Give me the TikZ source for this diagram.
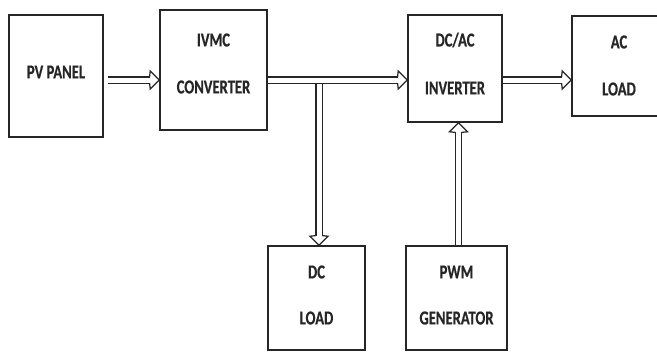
\documentclass[tikz,border=0pt]{standalone}
\usepackage{fontspec}
\setmainfont{Carlito}[BoldFeatures={FakeBold=0.7}]
\newcommand\blk[1]{\scalebox{1}[1.35]{\fontsize{14.6}{16}\selectfont\bfseries #1}}
\begin{document}
\begin{tikzpicture}[x=1pt,y=-1pt,
  box/.style={draw=black!85,line width=1.6pt,minimum width=#1,inner sep=0},
  lbl/.style={inner sep=0,text=black!85},
  flow/.style={draw=black!85,double=white,line width=1.2pt,double distance=5pt,shorten >=9pt},
  hd/.pic={\draw[black!85,line width=1.2pt,line join=miter]
     (-9.6,-3.1) -- (-9,-9) -- (0,0) -- (-9,9) -- (-9.6,3.1);}]
\useasboundingbox (0,0) rectangle (657,354);
\node[box=94pt,minimum height=122pt] (pv) at (56,76) {};
\node[box=107pt,minimum height=120pt] (ivmc) at (213.5,70) {};
\node[box=94pt,minimum height=107pt] (dcac) at (455,68.5) {};
\node[box=90pt,minimum height=100pt] (ac) at (617,66) {};
\node[box=97pt,minimum height=104pt] (dcl) at (316.5,298) {};
\node[box=101pt,minimum height=104pt] (pwm) at (456.5,298) {};
\node[lbl] (t1) at (56,72) {\blk{PV PANEL}};
\node[lbl] (t2) at (213.5,40) {\blk{IVMC}};
\node[lbl] (t3) at (213.5,87) {\blk{CONVERTER}};
\node[lbl] (t4) at (455,40) {\blk{DC/AC}};
\node[lbl] (t5) at (455,88) {\blk{INVERTER}};
\node[lbl] (t6) at (619,42) {\blk{AC}};
\node[lbl] (t7) at (619,89) {\blk{LOAD}};
\node[lbl] (t8) at (316.5,272) {\blk{DC}};
\node[lbl] (t9) at (316.5,318) {\blk{LOAD}};
\node[lbl] (t10) at (456.5,272) {\blk{PWM}};
\node[lbl] (t11) at (456.5,318) {\blk{GENERATOR}};
\coordinate (j) at (319,80);
\coordinate (p) at ([xshift=2pt]pwm.north);
\draw[flow] (j) -- (j |- dcl.north);
\pic[rotate=-90] at (j |- dcl.north) {hd};
\draw[flow] ([xshift=4pt]pv.east |- j) -- (ivmc.west |- j);
\pic at (ivmc.west |- j) {hd};
\draw[flow,shorten >=0pt] (ivmc.east |- j) -- ([xshift=-9pt]dcac.west |- j);
\pic at (dcac.west |- j) {hd};
\draw[flow] (dcac.east |- j) -- (ac.west |- j);
\pic at (ac.west |- j) {hd};
\draw[flow] (p) -- (p |- dcac.south);
\pic[rotate=90] at (p |- dcac.south) {hd};
\end{tikzpicture}
\end{document}
